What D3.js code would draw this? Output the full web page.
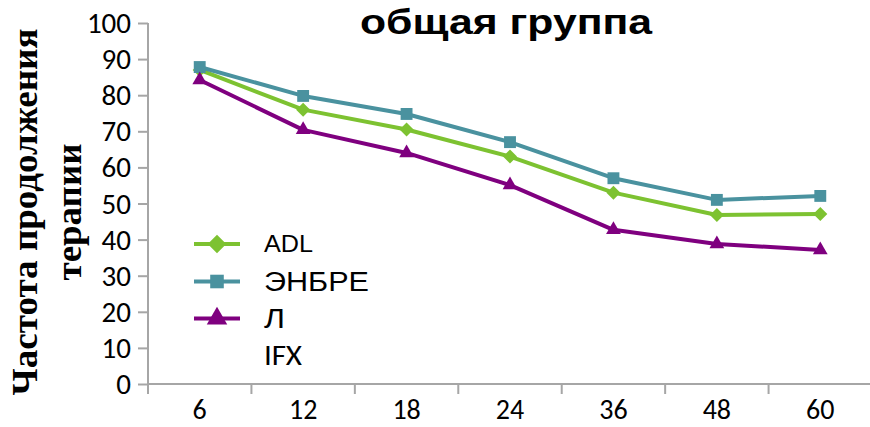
<!DOCTYPE html>
<html>
<head>
<meta charset="utf-8">
<script src="https://cdn.jsdelivr.net/npm/d3@7"></script>
<style>
  html, body { margin: 0; padding: 0; background: #fff; }
  svg { display: block; }
</style>
</head>
<body>
<svg id="chart" width="870" height="427"></svg>
<script>
// Months of therapy (category axis)
const months = ["6", "12", "18", "24", "36", "48", "60"];
// Therapy continuation rate, %, per drug
const adl   = [87, 76, 70.5, 63, 53, 46.8, 47.1];
const enbre = [87.8, 79.8, 74.8, 67, 57, 51, 52.1];
const lef   = [84.2, 70.4, 64, 55.1, 42.7, 38.8, 37.1];
const seriesNames = ["ADL", "ЭНБРЕ", "Л"];
const extraLegend = ["IFX"];
const yTicks = [0, 10, 20, 30, 40, 50, 60, 70, 80, 90, 100];

const series = [
  { name: seriesNames[0], values: adl,   color: "#7dc231", symbol: d3.symbolDiamond2,  size: 125, legendSize: 220 },
  { name: seriesNames[1], values: enbre, color: "#4a929f", symbol: d3.symbolSquare2,   size: 180, legendSize: 235 },
  { name: seriesNames[2], values: lef,   color: "#7f007f", symbol: d3.symbolTriangle2, size: 155, legendSize: 300 }
];

const svg = d3.select("#chart");
const plotLeft = 148, plotRight = 872, plotTop = 23, plotBottom = 384;

const x = d3.scaleBand().domain(months).range([plotLeft, plotRight]);
const y = d3.scaleLinear().domain([0, 100]).range([plotBottom, plotTop]);

const axisColor = "#a6a6a6";
const tickFont = "Carlito, 'Liberation Sans Narrow', 'Liberation Sans', sans-serif";
const sansFont = "'Liberation Sans', Arial, sans-serif";

// Y axis
const yAxis = svg.append("g").attr("transform", `translate(${plotLeft},0)`)
  .call(d3.axisLeft(y).tickValues(yTicks).tickSize(10).tickPadding(7).tickFormat(d3.format("d")));
yAxis.select(".domain").attr("stroke", axisColor).attr("stroke-width", 2).attr("d", `M0,${plotBottom + 10}V${plotTop}`);
yAxis.selectAll(".tick line").attr("stroke", axisColor).attr("stroke-width", 2);
yAxis.selectAll(".tick text")
  .attr("font-family", tickFont).attr("font-size", 29).attr("fill", "#000").attr("dy", "0.33em");

// X axis: ticks on category boundaries
const xAxis = svg.append("g").attr("transform", `translate(0,${plotBottom})`);
xAxis.append("line").attr("x1", plotLeft).attr("x2", plotRight).attr("stroke", axisColor).attr("stroke-width", 2);
const bounds = months.map(m => x(m)).concat([x(months[months.length - 1]) + x.bandwidth()]);
xAxis.selectAll("line.tk").data(bounds).join("line").attr("class", "tk")
  .attr("x1", d => d).attr("x2", d => d).attr("y1", 0).attr("y2", 10)
  .attr("stroke", axisColor).attr("stroke-width", 2);
xAxis.selectAll("text").data(months).join("text")
  .attr("x", d => x(d) + x.bandwidth() / 2).attr("y", 35)
  .attr("text-anchor", "middle")
  .attr("font-family", tickFont).attr("font-size", 28).attr("fill", "#000")
  .text(d => d);

// Lines and markers
const cx = m => x(m) + x.bandwidth() / 2;
const line = d3.line().x((d, i) => cx(months[i])).y(d => y(d));
series.forEach(s => {
  svg.append("path").datum(s.values).attr("d", line)
    .attr("fill", "none").attr("stroke", s.color).attr("stroke-width", 4).attr("stroke-linejoin", "round");
  svg.selectAll(null).data(s.values).join("path")
    .attr("transform", (d, i) => `translate(${cx(months[i])},${y(d)})`)
    .attr("d", d3.symbol().type(s.symbol).size(s.size))
    .attr("fill", s.color);
});

// Title
svg.append("text").attr("x", 506).attr("y", 34).attr("text-anchor", "middle")
  .attr("font-family", sansFont).attr("font-weight", "bold")
  .attr("font-size", 35).attr("textLength", 292).attr("lengthAdjust", "spacingAndGlyphs")
  .attr("fill", "#000").text("общая группа");

// Y axis title (two lines)
const yTitle = [
  { text: "Частота продолжения", x: 37, len: 367 },
  { text: "терапии", x: 81, len: 137 }
];
yTitle.forEach(t => {
  svg.append("text")
    .attr("transform", `translate(${t.x},212) rotate(-90)`)
    .attr("text-anchor", "middle")
    .attr("font-family", "'Liberation Serif', 'Times New Roman', serif").attr("font-weight", "bold")
    .attr("font-size", 35).attr("textLength", t.len).attr("lengthAdjust", "spacingAndGlyphs")
    .attr("fill", "#000").text(t.text);
});

// Legend
const legendY = [244, 281.5, 318.5];
const legendText = [
  { size: 23, len: 49, base: 252 },
  { size: 27, len: 105, base: 291 },
  { size: 27, len: 21, base: 328 }
];
series.forEach((s, i) => {
  const g = svg.append("g").attr("transform", `translate(0,${legendY[i]})`);
  g.append("line").attr("x1", 194).attr("x2", 240).attr("stroke", s.color).attr("stroke-width", 4);
  g.append("path").attr("transform", "translate(217,0)")
    .attr("d", d3.symbol().type(s.symbol).size(s.legendSize)).attr("fill", s.color);
  svg.append("text").attr("x", 264).attr("y", legendText[i].base)
    .attr("font-family", sansFont).attr("font-size", legendText[i].size)
    .attr("textLength", legendText[i].len).attr("lengthAdjust", "spacingAndGlyphs")
    .attr("fill", "#000").text(s.name);
});
svg.append("text").attr("x", 264).attr("y", 365)
  .attr("font-family", tickFont).attr("font-size", 28)
  .attr("textLength", 38).attr("lengthAdjust", "spacingAndGlyphs")
  .attr("fill", "#000").text(extraLegend[0]);
</script>
</body>
</html>
